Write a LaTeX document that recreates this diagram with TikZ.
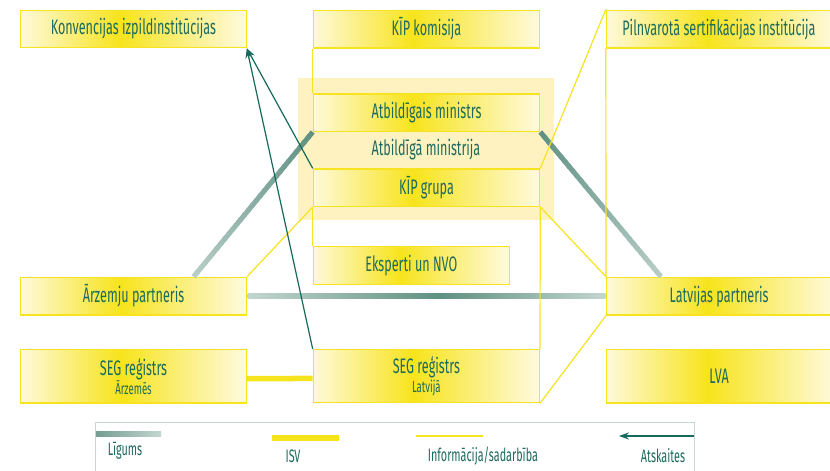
\documentclass[tikz,border=0pt]{standalone}
\usepackage{fontspec}
\setmainfont{Fira Sans}[FakeStretch=0.6]
\usetikzlibrary{arrows.meta,calc}
\definecolor{txt}{HTML}{1D6A5E}
\definecolor{ybord}{HTML}{F7E320}
\definecolor{bxL}{HTML}{FFF9DA}
\definecolor{bxM}{HTML}{F7E41C}
\definecolor{bxR}{HTML}{FFFADF}
\definecolor{bgpale}{HTML}{FEF3C0}
\definecolor{ligD}{HTML}{5F9082}
\definecolor{ligL}{HTML}{C3D6D0}
\definecolor{arr}{HTML}{16695B}
\definecolor{legbord}{HTML}{C9D7D3}
\definecolor{isv}{HTML}{F5E31C}
\pgfdeclarehorizontalshading{boxshade}{100bp}{color(0bp)=(bxL); color(25bp)=(bxL); color(47bp)=(bxM); color(75bp)=(bxR); color(100bp)=(bxR)}
\pgfdeclarehorizontalshading{ligshade}{100bp}{color(0bp)=(ligL); color(25bp)=(ligL); color(52bp)=(ligD); color(75bp)=(ligL); color(100bp)=(ligL)}
\tikzset{
  box/.style={draw=ybord, line width=1.3pt, shade, shading=boxshade, text=txt,
    font=\fontsize{21}{23}\selectfont, inner sep=0pt, anchor=north west, align=center},
  info/.style={draw=ybord, line width=1.2pt},
  report/.style={draw=arr, line width=1.2pt, -{Stealth[length=10pt,width=7pt]}},
  isvline/.style={draw=isv, line width=5.5pt},
  legtext/.style={text=txt, font=\fontsize{18}{20}\selectfont, inner sep=0pt}
}
\newcommand\subline[1]{{\fontsize{16}{18}\selectfont #1}}
% gradient thick line: from, to, start percentage of dark, end percentage of dark
\newcommand\ligline[4]{%
  \foreach \i in {0,...,29}{%
    \pgfmathsetmacro\ta{\i/30}%
    \pgfmathsetmacro\tb{min(1,(\i+1.3)/30)}%
    \pgfmathtruncatemacro\m{#3+(#4-#3)*(\i+0.5)/30}%
    \draw[line width=5pt, color=ligD!\m!ligL] ($(#1)!\ta!(#2)$) -- ($(#1)!\tb!(#2)$);
  }}
\begin{document}
\begin{tikzpicture}[x=1pt,y=-1pt]
\useasboundingbox (0,0) rectangle (830,471);
\fill[white] (0,0) rectangle (830,471);
% big background of ministry
\node[fill=bgpale, inner sep=0pt, minimum width=256.5pt, minimum height=142.2pt, anchor=north west,
  text=txt, font=\fontsize{21}{23}\selectfont] (bg) at (297.5,77.8) {Atbildīgā ministrija};
% boxes
\node[box, minimum width=225.5pt, minimum height=37.5pt] (kon) at (20,9.5) {Konvencijas izpildinstitūcijas};
\node[box, minimum width=226.3pt, minimum height=37.8pt] (kom) at (312.7,9.5) {KĪP komisija};
\node[box, minimum width=230pt, minimum height=37.8pt] (pil) at (605.8,9.5) {Pilnvarotā sertifikācijas institūcija\hspace*{5pt}};
\node[box, minimum width=226.3pt, minimum height=37.4pt] (min) at (312.7,93.3) {Atbildīgais ministrs};
\node[box, minimum width=226.3pt, minimum height=37.4pt] (grp) at (312.7,168.3) {KĪP grupa};
\node[box, minimum width=196pt, minimum height=38pt] (eks) at (312.7,246) {Eksperti un NVO};
\node[box, minimum width=225.7pt, minimum height=37.6pt] (arz) at (20,276.7) {Ārzemju partneris};
\node[box, minimum width=230pt, minimum height=37.6pt] (lat) at (606,276.7) {Latvijas partneris\hspace*{5pt}};
\node[box, minimum width=225.7pt, minimum height=53.3pt] (sega) at (20,349) {SEG reģistrs\\[-4pt]\subline{Ārzemēs}};
\node[box, minimum width=226pt, minimum height=53pt] (segl) at (312.7,349) {SEG reģistrs\\[-4pt]\subline{Latvijā}};
\node[box, minimum width=230pt, minimum height=53.3pt] (lva) at (606,349) {LVA\hspace*{5pt}};
% agreement lines (Līgums)
\coordinate (arztop) at ($(arz.north west)!0.765!(arz.north east)$);
\coordinate (lattop) at ($(lat.north west)+(55,0)$);
\ligline{min.south west}{arztop}{100}{12}
\ligline{min.south east}{lattop}{100}{12}
\shade[shading=ligshade] ($(arz.east)+(0.6,-2.5)$) rectangle ($(lat.west)+(-0.6,2.5)$);
% ISV
\draw[isvline] ($(sega.east)+(0,2.3)$) -- ($(segl.west)+(0,2.3)$);
% information lines
\draw[info] (kom.south west) -- (min.north west);
\draw[info] (grp.south west) -- (eks.north west);
\draw[info] (grp.south east) -- (segl.north east);
\draw[info] (pil.south west) -- (lat.north west);
\draw[info] (pil.north west) -- (grp.north east);
\draw[info] (grp.south east) -- (lat.north west);
\draw[info] (segl.south east) -- (lat.south west);
\draw[info] (grp.south west) -- (arz.north east);
% reports
\draw[report] (grp.north west) -- (kon.south east);
\draw[report] (segl.north west) -- (kon.south east);
% legend
\draw[legbord, line width=1pt] (95,422.5) rectangle (694,476);
\coordinate (lg1) at (96,433.5);
\coordinate (lg2) at (161,433.5);
\shade[left color=ligD!80!ligL, right color=ligL] ($(lg1)+(0,-2.5)$) rectangle ($(lg2)+(0,2.5)$);
\node[legtext] (tlig) at (125,451) {Līgums};
\coordinate (is1) at (272,438);
\coordinate (is2) at (339,438);
\draw[isvline] (is1) -- (is2);
\node[legtext] (tisv) at (293,456) {ISV};
\coordinate (in1) at (416,436);
\coordinate (in2) at (483,436);
\draw[info] (in1) -- (in2);
\node[legtext] (tinf) at (483,456) {Informācija/sadarbība};
\coordinate (ar1) at (694,436);
\coordinate (ar2) at (619,436);
\draw[report] (ar1) -- (ar2);
\node[legtext] (tats) at (663,456) {Atskaites};
\end{tikzpicture}
\end{document}
